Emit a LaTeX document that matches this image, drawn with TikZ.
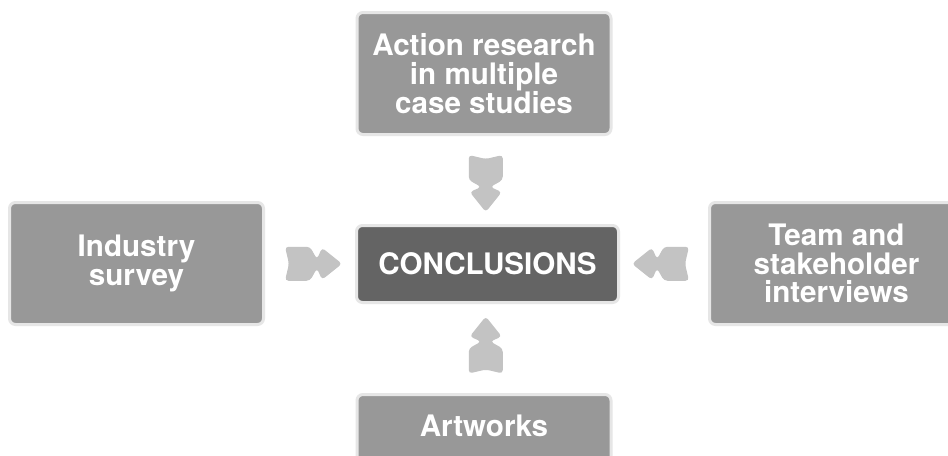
\documentclass[tikz,border=0pt]{standalone}
\usepackage{fontspec}
\setmainfont{TeX Gyre Heros}
\usetikzlibrary{calc}
\definecolor{boxgray}{HTML}{989898}
\definecolor{centergray}{HTML}{646464}
\definecolor{rimgray}{HTML}{E6E6E6}
\definecolor{arrowgray}{HTML}{C3C3C3}
\tikzset{
  labeltext/.style={text=white, font=\bfseries\fontsize{22.2}{21.5}\selectfont, align=center, inner sep=0pt},
  box/.style={labeltext, draw=rimgray, line width=2.25pt, fill=boxgray, rounded corners=4.5pt,
              minimum width=190.5pt, minimum height=91.5pt},
  centerbox/.style={box, fill=centergray, minimum width=196.5pt, minimum height=57.75pt},
  fatarrow/.pic={\fill[arrowgray, rounded corners=2.6pt]
    (-25,17) -- (-21,0) -- (-25,-17) -- (0,-17) -- (7,-4.5) -- (12,-16) -- (32,0)
    -- (12,16) -- (7,4.5) -- (0,17) -- cycle;}
}
\begin{document}
\begin{tikzpicture}[x=0.75pt,y=-0.75pt]
\useasboundingbox (0,0) rectangle (948,455);
\clip (0,0) rectangle (948,455);
\fill[white] (0,0) rectangle (948,455);
\node[centerbox] (concl) at (487.5,264) {CONCLUSIONS};
\node[box] (action) at (484,73.5) {Action research\\in multiple\\case studies};
\node[box] (survey) at (136.5,263.5) {Industry\\survey};
\node[box] (team) at (836.5,263.5) {Team and\\stakeholder\\interviews};
\node[box] (art) at (484,455.5) {};
\node[labeltext] (artlbl) at ($(art.north)+(0,32.5)$) {Artworks};
\pic[rotate=-90] at ($(action.south)!0.5!(concl.north)$) {fatarrow};
\pic[rotate=0] at ($(survey.east)!0.5!(concl.west)$) {fatarrow};
\pic[rotate=180] at ($(team.west)!0.5!(concl.east)$) {fatarrow};
\pic[rotate=90] at ($(art.north)!0.5!(concl.south)$) {fatarrow};
\end{tikzpicture}
\end{document}
